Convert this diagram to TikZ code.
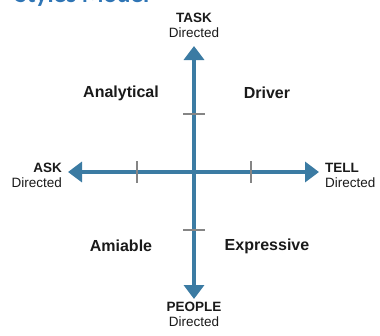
\documentclass[tikz,border=0pt]{standalone}
\usepackage{fontspec}
\setmainfont{Liberation Sans}
\newfontfamily\headfont{Carlito}
\usetikzlibrary{arrows.meta}
\definecolor{axisblue}{HTML}{3B7BA3}
\definecolor{tickgray}{HTML}{858585}
\definecolor{headblue}{HTML}{2F75B5}
\definecolor{ink}{HTML}{1A1A1A}
\tikzset{
  axisline/.style={draw=axisblue, line width=4pt, -{Triangle[length=14pt,width=20pt]}},
  tickline/.style={draw=tickgray, line width=2.6pt},
  dirlab/.style={text=ink, inner sep=0pt, font=\fontsize{13.5}{15}\selectfont},
  quad/.style={text=ink, inner sep=0pt, font=\fontsize{16}{18}\selectfont\bfseries},
  head/.style={text=headblue, inner sep=0pt, font=\headfont\fontsize{25}{28}\selectfont\bfseries},
}

\begin{document}
\begin{tikzpicture}[x=1pt, y=-1pt]
  \useasboundingbox[fill=white] (0,0) rectangle (380,335);
  % cropped heading
  \node[head, anchor=base west] (title) at (15,2) {Styles Model};
  % axes
  \coordinate (o) at (194,172);
  \coordinate (up) at (194,46);
  \coordinate (down) at (194,299);
  \coordinate (left) at (68,172);
  \coordinate (right) at (319,172);
  \draw[axisline] (o) -- (up);
  \draw[axisline] (o) -- (down);
  \draw[axisline] (o) -- (left);
  \draw[axisline] (o) -- (right);
  \foreach \x/\y in {137/172,251/172} {\draw[tickline] (\x,\y-11) -- (\x,\y+11);}
  \foreach \x/\y in {194/114,194/230} {\draw[tickline] (\x-11,\y) -- (\x+11,\y);}
  % ends
  \node[dirlab, align=center, anchor=south] (task) at (194,38) {\textbf{TASK}\\Directed};
  \node[dirlab, align=center, anchor=north] (people) at (194,302) {\textbf{PEOPLE}\\Directed};
  \node[dirlab, align=right, anchor=east] (ask) at (62,175) {\textbf{ASK}\\Directed};
  \node[dirlab, align=left, anchor=west] (tell) at (325,175) {\textbf{TELL}\\Directed};
  % quadrants
  \node[quad] (analytical) at (121,93) {Analytical};
  \node[quad] (driver) at (267,93) {Driver};
  \node[quad] (amiable) at (121,246) {Amiable};
  \node[quad] (expressive) at (267,246) {Expressive};
\end{tikzpicture}
\end{document}
